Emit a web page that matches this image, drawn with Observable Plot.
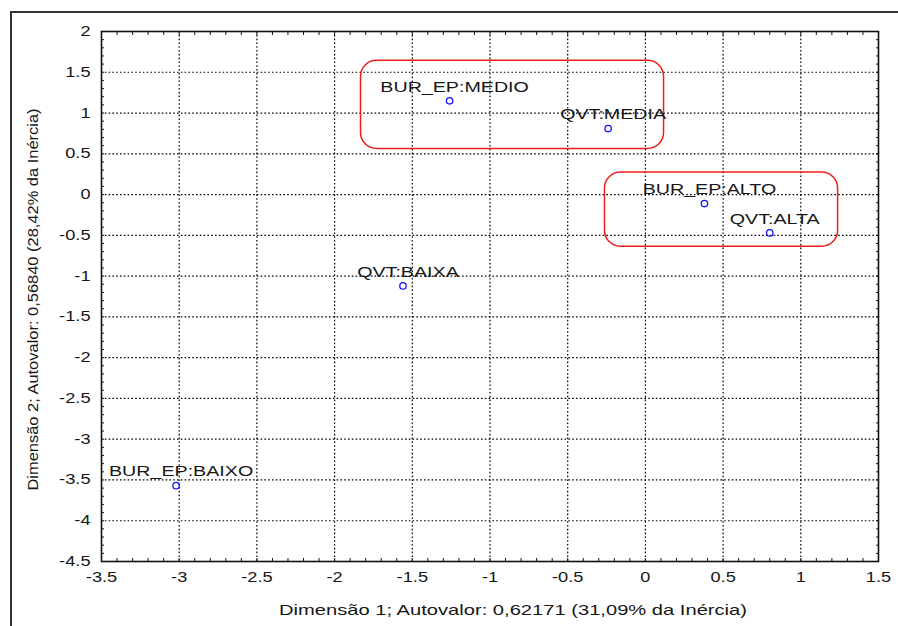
<!DOCTYPE html>
<html>
<head>
<meta charset="utf-8">
<script src="https://cdn.jsdelivr.net/npm/d3@7"></script>
<script src="https://cdn.jsdelivr.net/npm/@observablehq/plot@0.6"></script>
<style>
  html, body { margin: 0; padding: 0; background: #fff; }
  #wrap { position: relative; width: 898px; height: 626px; overflow: hidden; }
  #border { position: absolute; left: 10px; top: 11px; width: 900px; height: 700px;
            border-top: 2px solid #333; border-left: 2px solid #333; pointer-events: none; }
  #chart { position: absolute; left: 0; top: 0; }
</style>
</head>
<body>
<div id="wrap"><div id="chart"></div><div id="border"></div></div>
<script>
// ---- data ----
const categories = ["BUR_EP:MEDIO", "QVT:MEDIA", "BUR_EP:ALTO", "QVT:ALTA", "QVT:BAIXA", "BUR_EP:BAIXO"];
const dim1 = [-1.26, -0.24, 0.38, 0.80, -1.56, -3.02];
const dim2 = [1.15, 0.81, -0.11, -0.47, -1.12, -3.57];

const xTicks = [-3.5, -3, -2.5, -2, -1.5, -1, -0.5, 0, 0.5, 1, 1.5];
const yTicks = [2, 1.5, 1, 0.5, 0, -0.5, -1, -1.5, -2, -2.5, -3, -3.5, -4, -4.5];

// highlight groups (rounded boxes), in data units
const boxX1 = [-1.83, -0.26];
const boxX2 = [0.12, 1.24];
const boxY1 = [1.64, 0.27];
const boxY2 = [0.56, -0.64];

const xLabel = "Dimensão 1; Autovalor: 0,62171 (31,09% da Inércia)";
const yLabel = "Dimensão 2; Autovalor: 0,56840 (28,42% da Inércia)";

// ---- derived tables ----
const points = categories.map((c, i) => ({name: c, x: dim1[i], y: dim2[i]}));
const boxes = boxX1.map((v, i) => ({x1: v, x2: boxX2[i], y1: boxY1[i], y2: boxY2[i]}));
const minorX = d3.range(-35, 16).map(d => d / 10);
const minorY = d3.range(-45, 21).map(d => d / 10);
const fmt = d => String(d);

const font = "'Liberation Sans', Arial, sans-serif";
const ink = "#161616";
const grid = {stroke: "#000", strokeOpacity: 1, strokeWidth: 1.2, strokeDasharray: "1.6,2.2"};

const chart = Plot.plot({
  width: 898,
  height: 626,
  marginLeft: 101,
  marginRight: 20,
  marginTop: 31,
  marginBottom: 65,
  style: {fontFamily: font, fontSize: "14px", color: ink, background: "transparent"},
  x: {domain: [-3.5, 1.5]},
  y: {domain: [-4.5, 2]},
  marks: [
    Plot.gridX(xTicks.slice(1, -1), grid),
    Plot.gridY(yTicks.slice(1, -1), grid),
    Plot.axisX(minorX, {anchor: "bottom", tickSize: -3, text: null, label: null, stroke: ink}),
    Plot.axisX(minorX, {anchor: "top", tickSize: -3, text: null, label: null, stroke: ink}),
    Plot.axisY(minorY, {anchor: "left", tickSize: -3, text: null, label: null, stroke: ink}),
    Plot.axisY(minorY, {anchor: "right", tickSize: -3, text: null, label: null, stroke: ink}),
    Plot.axisX(xTicks, {anchor: "bottom", tickSize: 0, tickPadding: 11, tickFormat: fmt, label: null, fill: ink}),
    Plot.axisY(yTicks, {anchor: "left", tickSize: 0, tickPadding: 11, tickFormat: fmt, label: null, fill: ink}),
    Plot.frame({stroke: "#111", strokeWidth: 1.6}),
    Plot.rect(boxes, {x1: "x1", x2: "x2", y1: "y1", y2: "y2", stroke: "#ee1c1c", strokeWidth: 1.5, fill: "none", rx: 16}),
    Plot.dot(points, {x: "x", y: "y", r: 3.2, stroke: "#1010ff", strokeWidth: 1.3, fill: "none"}),
    Plot.text(points, {x: "x", y: "y", text: "name", dx: 5, dy: -14, fontSize: 15, fill: ink, textAnchor: "middle"}),
    Plot.text([xLabel], {frameAnchor: "bottom", textAnchor: "middle", lineAnchor: "middle", dx: 23, dy: 49, fontSize: 15, fill: ink}),
    Plot.text([yLabel], {frameAnchor: "left", textAnchor: "middle", lineAnchor: "middle", rotate: -90, dx: -68, dy: 3, fontSize: 15, fill: ink})
  ]
});

document.getElementById("chart").appendChild(chart);

// the reference is horizontally stretched: widen glyphs the same way
function stretch(t, factor, fixed) {
  const len = t.getComputedTextLength();
  t.setAttribute("textLength", fixed ? fixed : (len * factor).toFixed(1));
  t.setAttribute("lengthAdjust", "spacingAndGlyphs");
}
chart.querySelectorAll("text").forEach(t => {
  const s = t.textContent;
  if (categories.includes(s)) stretch(t, 1.31);
  else if (s === xLabel) stretch(t, 1, 468);
  else if (s === yLabel) stretch(t, 1, 382);
});
chart.querySelectorAll('[aria-label="x-axis tick label"] text, [aria-label="y-axis tick label"] text')
  .forEach(t => stretch(t, 1.3));
</script>
</body>
</html>
